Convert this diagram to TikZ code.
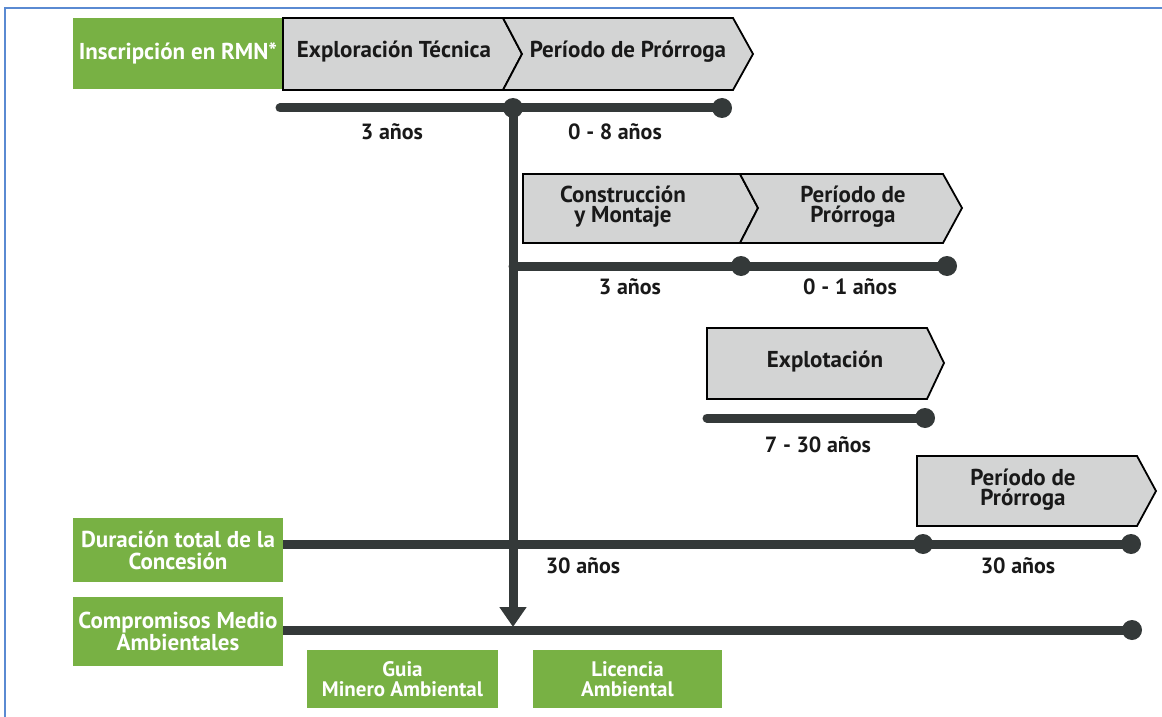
\documentclass[tikz,border=0pt]{standalone}
\usepackage{fontspec}
\setmainfont{PT Sans}
\usetikzlibrary{arrows.meta,positioning}

\definecolor{minegreen}{HTML}{78B144}
\definecolor{phasegray}{HTML}{D3D4D4}
\definecolor{lineblack}{HTML}{343939}
\definecolor{frameblue}{HTML}{5A8AD2}

\begin{document}
\begin{tikzpicture}[x=0.5pt, y=-0.5pt,
    greenbox/.style={rectangle, fill=minegreen, text=white, inner sep=0pt, align=center, font=\bfseries\fontsize{11.5}{11}\selectfont},
    phase/.style={fill=phasegray, draw=black, line width=0.9pt, line join=miter},
    phasetext/.style={align=center, text=black!90, font=\bfseries\fontsize{11.5}{10}\selectfont},
    tline/.style={draw=lineblack, line width=4.5pt, line cap=round},
    dot/.style={fill=lineblack},
    years/.style={text=black!90, font=\bfseries\fontsize{11}{11}\selectfont}
]
\useasboundingbox (0,0) rectangle (1162,717);

% Frame
\draw[frameblue, line width=1pt] (5,717) -- (5,8) -- (1162,8);

% Left labels
\node[greenbox, minimum width=105pt, minimum height=35.5pt] (rmn) at (178,53.5) {Inscripción en RMN*};
\node[greenbox, minimum width=105pt, minimum height=32pt] (total) at (178,550) {Duración total de la\\Concesión};
\node[greenbox, minimum width=105pt, minimum height=34.5pt] (ambiente) at (178,631.5) {Compromisos Medio\\Ambientales};

% Exploration phase
\draw[phase] (283,18) -- (503,18) -- (522,54) -- (503,90) -- (283,90) -- cycle;
\node[phasetext] (explor) at (394,52) {Exploración Técnica};
\draw[phase] (503,18) -- (733,18) -- (753,54) -- (733,90) -- (503,90) -- (522,54) -- cycle;
\node[phasetext] (prorr1) at (628,52) {Período de Prórroga};

\coordinate (t1a) at (280,108);
\coordinate (t1b) at (513,108);
\coordinate (t1c) at (722,108);
\draw[tline] (t1a) -- (t1c);
\fill[dot] (t1b) circle (5pt);
\fill[dot] (t1c) circle (5pt);
\node[years] (y1) at (392,132) {3 años};
\node[years] (y2) at (615,132) {0 - 8 años};

% Construction phase
\draw[phase] (523,174) -- (740,174) -- (758,208) -- (740,243) -- (523,243) -- cycle;
\node[phasetext] (constr) at (623,207) {Construcción\\y Montaje};
\draw[phase] (740,174) -- (943,174) -- (962,208) -- (943,243) -- (740,243) -- (758,208) -- cycle;
\node[phasetext] (prorr2) at (853,207) {Período de\\Prórroga};

\coordinate (t2a) at (513,266);
\coordinate (t2b) at (741,266);
\coordinate (t2c) at (947,266);
\draw[tline] (t2a) -- (t2c);
\fill[dot] (t2b) circle (5pt);
\fill[dot] (t2c) circle (5pt);
\node[years] (y3) at (630,287) {3 años};
\node[years] (y4) at (850,287) {0 - 1 años};

% Exploitation phase
\draw[phase] (707,328) -- (927,328) -- (944,363) -- (927,399) -- (707,399) -- cycle;
\node[phasetext] (explot) at (825,362) {Explotación};

\coordinate (t3a) at (707,418);
\coordinate (t3b) at (925,418);
\draw[tline] (t3a) -- (t3b);
\fill[dot] (t3b) circle (5pt);
\node[years] (y5) at (818,445) {7 - 30 años};

% Extension of the concession
\draw[phase] (917,456) -- (1137,456) -- (1156,491) -- (1137,526) -- (917,526) -- cycle;
\node[phasetext] (prorr3) at (1023,490) {Período de\\Prórroga};

\coordinate (t4a) at (283,544);
\coordinate (t4b) at (923,544);
\coordinate (t4c) at (1131,544);
\draw[tline, line cap=butt] (t4a) -- (t4c);
\fill[dot] (t4b) circle (5pt);
\fill[dot] (t4c) circle (5pt);
\node[years] (y6) at (583,566) {30 años};
\node[years] (y7) at (1018,566) {30 años};

% Environmental commitments
\coordinate (t5a) at (283,630);
\coordinate (t5b) at (1132,630);
\draw[tline, line cap=butt] (t5a) -- (t5b);
\fill[dot] (t5b) circle (5pt);

\coordinate (arrtip) at (513,627);
\draw[tline, line cap=butt, -{Triangle[width=13pt, length=10pt]}] (t1b) -- (arrtip);

\node[greenbox, minimum width=95.5pt, minimum height=29pt, font=\bfseries\fontsize{10.5}{10}\selectfont] (guia) at (402.5,679) {Guia\\Minero Ambiental};
\node[greenbox, minimum width=94.5pt, minimum height=29pt, font=\bfseries\fontsize{10.5}{10}\selectfont] (licencia) at (627.5,679) {Licencia\\Ambiental};

\end{tikzpicture}
\end{document}
